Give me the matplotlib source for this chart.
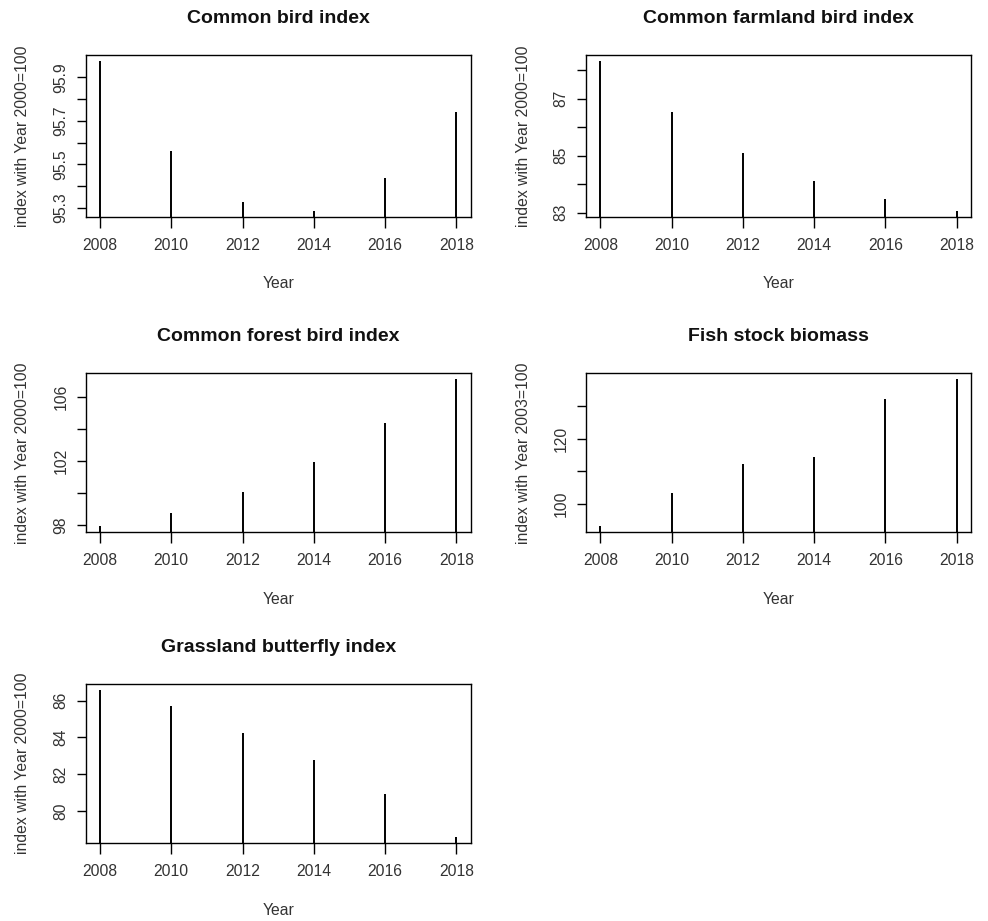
import numpy as np
import matplotlib
matplotlib.use("Agg")
import matplotlib.pyplot as plt

plt.rcParams['font.family'] = ['Liberation Sans', 'DejaVu Sans']

years = [2008, 2010, 2012, 2014, 2016, 2018]

titles = ["Common bird index", "Common farmland bird index",
          "Common forest bird index", "Fish stock biomass",
          "Grassland butterfly index"]
ylabels = ["index with Year 2000=100", "index with Year 2000=100",
           "index with Year 2000=100", "index with Year 2003=100",
           "index with Year 2000=100"]

bird = [95.974, 95.562, 95.328, 95.286, 95.439, 95.741]
farmland = [88.33, 86.55, 85.11, 84.12, 83.48, 83.06]
forest = [97.90, 98.77, 100.07, 101.93, 104.38, 107.13]
fish = [93.14, 103.25, 112.3, 114.3, 132.3, 138.26]
butterfly = [86.58, 85.69, 84.24, 82.79, 80.92, 78.57]
series = [bird, farmland, forest, fish, butterfly]

# y ticks (all drawn) and which get labels, like R's axis()
yticks = [[95.3, 95.4, 95.5, 95.6, 95.7, 95.8, 95.9],
          [83, 84, 85, 86, 87, 88],
          [98, 100, 102, 104, 106],
          [100, 110, 120, 130],
          [80, 82, 84, 86]]
ylabeled = [["95.3", "", "95.5", "", "95.7", "", "95.9"],
            ["83", "", "85", "", "87", ""],
            ["98", "", "102", "", "106"],
            ["100", "", "120", ""],
            ["80", "82", "84", "86"]]

W, H = 988, 921
cols = [(85.7, 470.7), (586, 971)]
rows = [(55, 217), (373.3, 532.3), (684, 843.3)]

fig = plt.figure(figsize=(W / 100, H / 100), dpi=100)
txt = '#333333'

for i in range(5):
    r, c = divmod(i, 2)
    x0, x1 = cols[c]
    y0, y1 = rows[r]
    ax = fig.add_axes([x0 / W, 1 - y1 / H, (x1 - x0) / W, (y1 - y0) / H])
    vals = np.array(series[i])
    ax.vlines(years, 0, vals, color='black', lw=1.4)
    lo, hi = vals.min(), vals.max()
    pad = 0.04 * (hi - lo)
    ax.set_ylim(lo - pad, hi + pad)
    ax.set_xlim(2008 - 0.4, 2018 + 0.4)
    ax.set_xticks(years)
    ax.set_xticklabels([str(y) for y in years])
    ax.set_yticks(yticks[i])
    ax.set_yticklabels(ylabeled[i])
    plt.setp(ax.get_yticklabels(), rotation=90, va='center')
    ax.tick_params(axis='x', length=8, width=1.0, pad=7, labelsize=11.3, labelcolor=txt)
    ax.tick_params(axis='y', length=6.5, width=1.0, pad=6, labelsize=11.3, labelcolor=txt)
    for s in ax.spines.values():
        s.set_linewidth(1.0)
    ax.annotate(titles[i], (0.5, 1), xycoords='axes fraction', xytext=(0, 36.6 * 0.72),
                textcoords='offset points', ha='center', va='center',
                fontsize=14, fontweight='bold', color='#111111')
    ax.annotate("Year", (0.5, 0), xycoords='axes fraction', xytext=(0, -67 * 0.72),
                textcoords='offset points', ha='center', va='center',
                fontsize=11.3, color=txt)
    ax.annotate(ylabels[i], (0, 0.5), xycoords='axes fraction', xytext=(-63 * 0.72, 0),
                textcoords='offset points', ha='center', va='center', rotation=90,
                fontsize=11.3, color=txt)

fig.savefig("out.png", dpi=100)
